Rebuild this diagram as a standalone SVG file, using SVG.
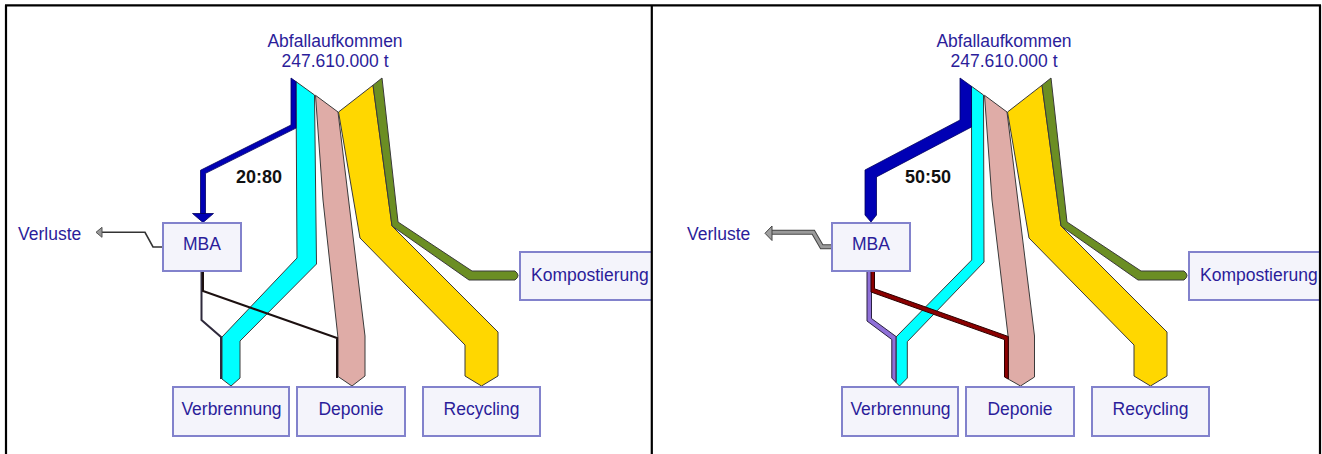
<svg xmlns="http://www.w3.org/2000/svg" width="1322" height="454" viewBox="0 0 1322 454">
<style>
.lbl{font-family:"Liberation Sans",Arial,sans-serif;font-size:17.5px;fill:#2b1d9a}
.mid{text-anchor:middle}
.ratio{font-family:"Liberation Sans",Arial,sans-serif;font-size:18px;font-weight:bold;fill:#111}
.box{fill:#f4f4fb;stroke:#8282cc;stroke-width:2}
.flow{stroke:#3a3a3a;stroke-width:1;stroke-linejoin:miter}
.cyan{fill:#00ffff}
.pink{fill:#dfaca7}
.yellow{fill:#ffd700}
.green{fill:#6b8e23}
.blue{fill:#0000b4;stroke:#000060;stroke-width:0.8}
.frame{stroke:#000;stroke-width:2.2;fill:none}
</style>
<defs>
<clipPath id="clipL"><rect x="0" y="0" width="651" height="454"/></clipPath>
<clipPath id="clipR"><rect x="653" y="0" width="666" height="454"/></clipPath>
</defs>
<rect x="0" y="0" width="1322" height="454" fill="#ffffff"/>

<g id="panel-left" clip-path="url(#clipL)">
  <g id="L-connectors">
    <polygon class="flow cyan" points="296,81.6 314.5,95 316.5,264 240,341 240,378 231,386 222,379 222,337 297,258"/>
    <polygon class="flow pink" points="315.5,95.3 338,112 365,336 365,376 352,386 338,376.5 338,338 323,200"/>
    <polygon class="flow yellow" points="338.5,112 373,85.2 392,226 498,332 498,376 481.5,386 465,376 465,345 360,238"/>
    <path class="flow green" d="M373,85.2 L382,78 L398,222 L472,271 L515,271 Q521,275.5 515,280 L469,280 L392,226 Z"/>
    <polygon class="blue" points="291,78 291,125 200.5,170.25 200.5,214 205.5,214 205.5,173.35 296,128.1 296,81.6"/>
    <polygon class="blue" points="192.5,213.5 213.5,213.5 203,222.5"/>
    <polyline fill="none" stroke="#2f2a3c" stroke-width="2" points="201.5,271 201.5,320 221,337 221,379"/>
    <polyline fill="none" stroke="#1c1010" stroke-width="2" points="203,271 203,291 337,338 337,378"/>
    <polyline fill="none" stroke="#333333" stroke-width="1.6" points="163,247 153,247 145,232.3 101,232.3"/>
    <polygon fill="#999999" stroke="#555555" stroke-width="1" points="96,232.3 102,227.3 102,237.3"/>
  </g>
  <g id="L-source">
    <text class="lbl mid" x="335" y="47">Abfallaufkommen</text>
    <text class="lbl mid" x="335" y="67">247.610.000 t</text>
  </g>
  <g id="L-ratio"><text class="ratio" x="236" y="183">20:80</text></g>
  <g id="L-mba"><rect class="box" x="163" y="223" width="78" height="48"/><text class="lbl mid" x="202" y="250">MBA</text></g>
  <g id="L-verluste"><text class="lbl" x="18" y="240">Verluste</text></g>
  <g id="L-verbrennung"><rect class="box" x="173" y="387" width="116" height="49"/><text class="lbl mid" x="231.5" y="415">Verbrennung</text></g>
  <g id="L-deponie"><rect class="box" x="297" y="387" width="108" height="49"/><text class="lbl mid" x="351" y="415">Deponie</text></g>
  <g id="L-recycling"><rect class="box" x="423" y="387" width="117" height="49"/><text class="lbl mid" x="481.5" y="415">Recycling</text></g>
  <g id="L-kompostierung"><rect class="box" x="520" y="252" width="150" height="48"/><text class="lbl" x="531" y="281">Kompostierung</text></g>
</g>

<g id="panel-right" clip-path="url(#clipR)">
 <g transform="translate(669,0)">
  <g id="R-connectors">
    <polygon class="flow cyan" points="302.5,86.3 314.5,95 315,262 238.3,341.7 238.3,378 230.5,386 227,382.4 227,337 302.7,260"/>
    <polygon class="flow pink" points="315.5,95.3 338,112 365.5,336 365.5,377 351.5,386 339.3,379.1 339.3,338 323,200"/>
    <polygon class="flow yellow" points="338.5,112 373,85.2 392,226 498,332 498,376 481.5,386 465,376 465,345 360,238"/>
    <path class="flow green" d="M373,85.2 L382,78 L398,222 L472,271 L515,271 Q521,275.5 515,280 L469,280 L392,226 Z"/>
    <polygon class="blue" points="291,78 291,120 196,170 196,215 202,222 207.5,215 207.5,176.9 302.5,127 302.5,86.3"/>
    <polygon fill="#8f70d8" stroke="#2a2040" stroke-width="1" points="198,271 202.5,271 202.5,318.5 227,336.5 227,382.4 222.8,378 222.8,339.5 198,321"/>
    <polygon fill="#8b0000" stroke="#2a0000" stroke-width="1" points="202,271 205.5,271 205.5,288.8 339.3,336.5 339.3,379.1 335.5,377 335.5,339.6 202,292"/>
    <polyline fill="none" stroke="#444444" stroke-width="5" points="162.7,246.7 152.7,246.7 144.3,232.3 102,232.3"/>
    <polyline fill="none" stroke="#9a9a9a" stroke-width="3" points="163.5,246.7 152.7,246.7 144.3,232.3 102,232.3"/>
    <polygon fill="#a0a0a0" stroke="#444444" stroke-width="1" points="96,233.3 103,226 103,240.5"/>
  </g>
  <g id="R-source">
    <text class="lbl mid" x="335" y="47">Abfallaufkommen</text>
    <text class="lbl mid" x="335" y="67">247.610.000 t</text>
  </g>
  <g id="R-ratio"><text class="ratio" x="236" y="183">50:50</text></g>
  <g id="R-mba"><rect class="box" x="163" y="223" width="78" height="48"/><text class="lbl mid" x="202" y="250">MBA</text></g>
  <g id="R-verluste"><text class="lbl" x="18" y="240">Verluste</text></g>
  <g id="R-verbrennung"><rect class="box" x="173" y="387" width="116" height="49"/><text class="lbl mid" x="231.5" y="415">Verbrennung</text></g>
  <g id="R-deponie"><rect class="box" x="297" y="387" width="108" height="49"/><text class="lbl mid" x="351" y="415">Deponie</text></g>
  <g id="R-recycling"><rect class="box" x="423" y="387" width="117" height="49"/><text class="lbl mid" x="481.5" y="415">Recycling</text></g>
  <g id="R-kompostierung"><rect class="box" x="520" y="252" width="150" height="48"/><text class="lbl" x="531" y="281">Kompostierung</text></g>
 </g>
</g>

<g id="frame" class="frame">
  <line x1="5" y1="5.3" x2="1321" y2="5.3"/>
  <line x1="6" y1="5.3" x2="6" y2="454"/>
  <line x1="651.8" y1="5.3" x2="651.8" y2="454"/>
  <line x1="1320" y1="5.3" x2="1320" y2="454"/>
</g>
</svg>
